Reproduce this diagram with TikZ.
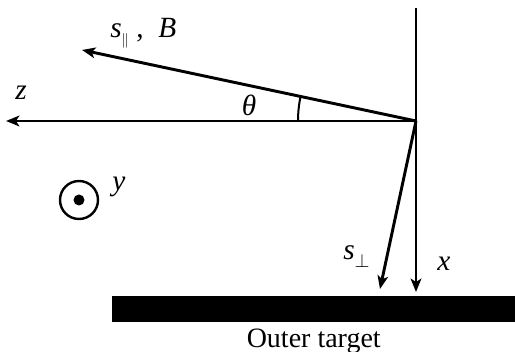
\documentclass[tikz,border=0pt]{standalone}
\usepackage{fontspec}
\setmainfont{Liberation Serif}
\usetikzlibrary{arrows.meta,positioning}

\begin{document}
\begin{tikzpicture}[
  x=0.75pt, y=-0.75pt,
  ax/.style={line width=2.2pt, -{Stealth[length=10pt, width=8pt, inset=2.5pt]}},
  lbl/.style={inner sep=0pt, font=\fontsize{22}{24}\selectfont\itshape}
]
\useasboundingbox (0,0) rectangle (515,352);
% axes and vectors
\coordinate (O)    at (416,121);
\coordinate (xtop) at (416,8);
\coordinate (xend) at (416,292);
\coordinate (zend) at (6,121);
\coordinate (send) at (82,50);
\coordinate (pend) at (380,289);
\coordinate (za)   at (298,121);
\draw[line width=2.2pt] (xtop) -- (O);
\draw[ax] (O) -- (xend);
\draw[ax] (O) -- (zend);
\draw[ax] (O) -- (send);
\draw[ax] (O) -- (pend);
\draw[line width=1.5pt] (za) arc[start angle=180, end angle=192, radius=118];
% target
\node[fill=black, inner sep=0pt, minimum width=403*0.75pt, minimum height=26*0.75pt,
      anchor=north west] (target) at (112,296) {};
\node[font=\fontsize{21}{23}\selectfont, below=1pt of target] (tlabel) {Outer target};
% y axis out of page
\node[circle, draw, line width=1.8pt, minimum size=38*0.75pt, inner sep=0pt] (ycirc) at (79,200) {};
\fill (ycirc.center) circle[radius=5.5];
% labels
\node[lbl] (zlabel) at (21,93) {z};
\node[lbl] (theta) at (249,105) {θ};
\node[lbl, anchor=west] (slabel) at (110,33) {s\raisebox{-0.55ex}{$\scriptscriptstyle\parallel$}\ \upshape ,\ \ \itshape B};
\node[lbl] (ylabel) at (119,187) {y};
\node[lbl] (xlabel) at (444,264) {x};
\node[lbl, anchor=west] (plabel) at (343,257) {s\raisebox{-0.6ex}{$\scriptstyle\perp$}};
\end{tikzpicture}
\end{document}
